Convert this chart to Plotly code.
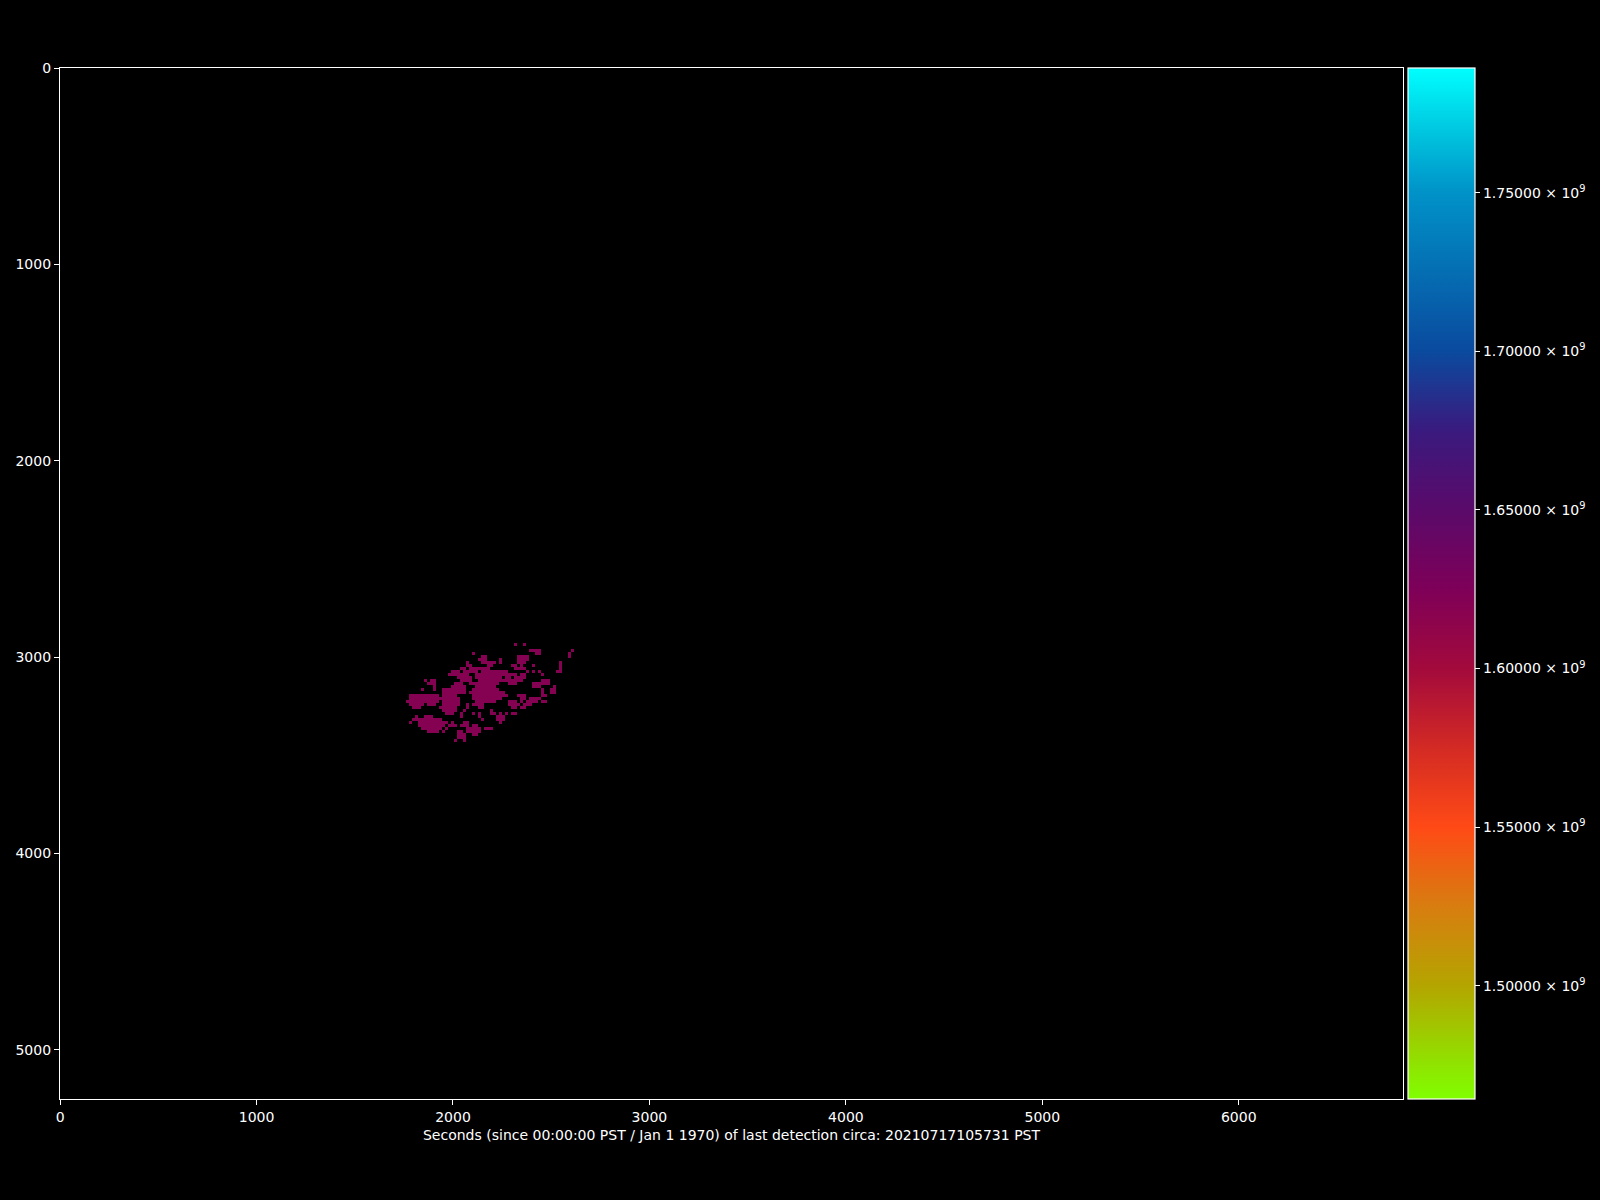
import plotly.graph_objects as go

# ---------------- data ----------------
# colour scale (value -> colour)
CBAR_MIN = 1.4643e9
CBAR_MAX = 1.7893e9
CBAR_VALUES = [1.4643e9, 1.50e9, 1.525e9, 1.55e9, 1.575e9, 1.60e9, 1.625e9,
               1.65e9, 1.675e9, 1.70e9, 1.75e9, 1.77e9, 1.7893e9]
CBAR_COLORS = ["#80ff00", "#b4a500", "#d87d10", "#ff4a16", "#d32a24", "#a30a3c",
               "#7e0058", "#5a0a6a", "#3a1a7e", "#0a4a9e", "#0092c8", "#00c8e0",
               "#00ffff"]
CBAR_TICKS = [1.50e9, 1.55e9, 1.60e9, 1.65e9, 1.70e9, 1.75e9]
CBAR_TICKTEXT = ["1.50000 × 10<sup>9</sup>", "1.55000 × 10<sup>9</sup>",
                 "1.60000 × 10<sup>9</sup>", "1.65000 × 10<sup>9</sup>",
                 "1.70000 × 10<sup>9</sup>", "1.75000 × 10<sup>9</sup>"]

X_TICKS = [0, 1000, 2000, 3000, 4000, 5000, 6000]
Y_TICKS = [0, 1000, 2000, 3000, 4000, 5000]
X_EXTENT = [-0.5, 6836]
Y_EXTENT = [5250, -0.5]

# detection blob: grid of cells (col runs per row)
GRID_X0 = 1730.0
GRID_Y0 = 2911.0
CELL = 15.3
GRID_COLS = 60
BLOB_VALUE = 1.62e9
BLOB_RUNS = [
    [],
    [(38, 38), (41, 41)],
    [],
    [(43, 46), (57, 57)],
    [(24, 24), (45, 46), (56, 56)],
    [(27, 28), (39, 42), (56, 56)],
    [(26, 28), (33, 33), (39, 42)],
    [(22, 22), (27, 29), (30, 31), (33, 33), (39, 41), (53, 53)],
    [(22, 23), (29, 29), (30, 30), (37, 38), (40, 40), (44, 44), (53, 53)],
    [(20, 21), (23, 26), (27, 29), (38, 41), (53, 53)],
    [(17, 19), (21, 25), (27, 29), (30, 33), (34, 35), (42, 42), (44, 44), (46, 46), (52, 53)],
    [(16, 17), (18, 22), (25, 29), (30, 33), (34, 36), (37, 38), (40, 41), (47, 47)],
    [(19, 23), (25, 29), (30, 33), (35, 36), (38, 41)],
    [(8, 8), (10, 11), (20, 23), (26, 29), (30, 33), (34, 35), (36, 40), (47, 49)],
    [(9, 11), (18, 20), (23, 29), (30, 32), (36, 38), (44, 49)],
    [(11, 11), (17, 21), (25, 29), (30, 31), (44, 46), (51, 51)],
    [(7, 7), (11, 11), (14, 21), (24, 25), (26, 29), (30, 32), (47, 47), (50, 51)],
    [(14, 21), (23, 29), (30, 34), (47, 47), (50, 51)],
    [(3, 4), (5, 12), (14, 18), (24, 29), (30, 31), (32, 35), (39, 41), (47, 48)],
    [(3, 13), (14, 19), (24, 29), (30, 33), (40, 41), (43, 46)],
    [(2, 9), (10, 12), (14, 19), (25, 29), (30, 31), (36, 38), (40, 40), (42, 45), (47, 48)],
    [(3, 7), (9, 11), (14, 19), (22, 22), (24, 27), (36, 39), (41, 41), (42, 43)],
    [(4, 6), (13, 13), (14, 18), (22, 22), (26, 27), (37, 38), (40, 41)],
    [(14, 18), (21, 21), (30, 30)],
    [(15, 17), (20, 20), (24, 24), (26, 26), (30, 31), (33, 33), (35, 35), (37, 38)],
    [(5, 5), (8, 10), (20, 20), (26, 26), (32, 34)],
    [(4, 6), (7, 13), (27, 27), (32, 34)],
    [(3, 3), (6, 15), (17, 17), (21, 22), (33, 33)],
    [(6, 14), (16, 18), (20, 22), (24, 25)],
    [(7, 13), (15, 15), (22, 26), (28, 29), (30, 30)],
    [(9, 12), (14, 14), (19, 20), (22, 26)],
    [(19, 21), (24, 25)],
    [(19, 21)],
    [(18, 18), (21, 21)],
    [],
    [],
]

X_TITLE = "Seconds (since 00:00:00 PST / Jan 1 1970) of last detection circa: 20210717105731 PST"

# ---------------- build ----------------
span = CBAR_MAX - CBAR_MIN
colorscale = [[(v - CBAR_MIN) / span, c] for v, c in zip(CBAR_VALUES, CBAR_COLORS)]
colorscale[0][0] = 0.0
colorscale[-1][0] = 1.0

nrows = len(BLOB_RUNS)
z = [[None] * GRID_COLS for _ in range(nrows)]
for r, runs in enumerate(BLOB_RUNS):
    for a, b in runs:
        for c in range(a, b + 1):
            z[r][c] = BLOB_VALUE
xs = [GRID_X0 + CELL * (c + 0.5) for c in range(GRID_COLS)]
ys = [GRID_Y0 + CELL * (r + 0.5) for r in range(nrows)]

FONT = dict(family="DejaVu Sans", size=14, color="white")

fig = go.Figure()
fig.add_trace(go.Heatmap(
    x=xs, y=ys, z=z,
    zmin=CBAR_MIN, zmax=CBAR_MAX,
    colorscale=colorscale,
    zsmooth=False,
    hoverongaps=False,
    colorbar=dict(
        x=1.0037, xanchor="left", xref="paper",
        y=0.5, yanchor="middle", len=1.0, lenmode="fraction",
        thickness=67, thicknessmode="pixels",
        xpad=0, ypad=0,
        outlinecolor="white", outlinewidth=1.2,
        tickvals=CBAR_TICKS, ticktext=CBAR_TICKTEXT,
        ticks="outside", ticklen=5, tickcolor="white", tickwidth=1,
        tickfont=FONT,
        bgcolor="rgba(0,0,0,0)",
    ),
))

axis_common = dict(
    showgrid=False, zeroline=False,
    showline=True, mirror=True, linecolor="white", linewidth=1.2,
    ticks="outside", ticklen=5, tickcolor="white", tickwidth=1,
    tickfont=FONT,
)

fig.update_layout(
    width=1600, height=1200,
    margin=dict(l=60, r=197, t=68, b=101),
    paper_bgcolor="black", plot_bgcolor="black",
    font=FONT,
    showlegend=False,
    xaxis=dict(range=X_EXTENT, tickvals=X_TICKS, **axis_common,
               title=dict(text=X_TITLE, font=FONT, standoff=6)),
    yaxis=dict(range=Y_EXTENT, tickvals=Y_TICKS, **axis_common),
)

fig.write_html("out.html")
